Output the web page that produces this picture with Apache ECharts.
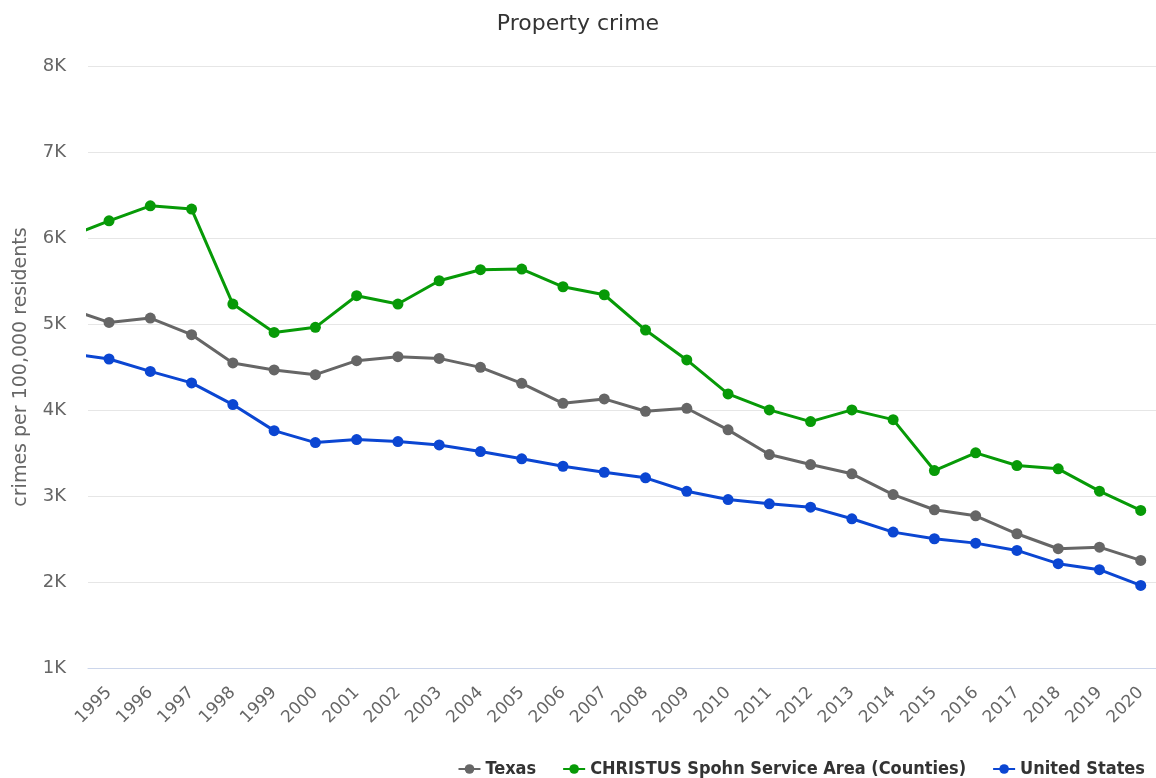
<!DOCTYPE html>
<html>
<head>
<meta charset="utf-8">
<title>Property crime</title>
<script src="https://cdn.jsdelivr.net/npm/echarts@6/dist/echarts.min.js"></script>
<style>
  html, body { margin: 0; padding: 0; background: #fff; }
  #chart { width: 1156px; height: 778px; }
</style>
</head>
<body>
<div id="chart"></div>
<script>
// years shown on the axis; 1994 sits just outside the left edge and is clipped
var years = [1994, 1995, 1996, 1997, 1998, 1999, 2000, 2001, 2002, 2003, 2004, 2005, 2006,
    2007, 2008, 2009, 2010, 2011, 2012, 2013, 2014, 2015, 2016, 2017, 2018, 2019, 2020];
var yearLabels = [1995, 1996, 1997, 1998, 1999, 2000, 2001, 2002, 2003, 2004, 2005, 2006,
    2007, 2008, 2009, 2010, 2011, 2012, 2013, 2014, 2015, 2016, 2017, 2018, 2019, 2020];

var texas = [5180, 5018, 5069, 4876, 4547, 4466, 4411, 4574, 4620, 4600, 4496, 4310, 4078,
    4129, 3985, 4020, 3769, 3482, 3366, 3258, 3017, 2840, 2770, 2561, 2387, 2405, 2251];
var christus = [6010, 6200, 6374, 6336, 5232, 4902, 4961, 5329, 5232, 5503, 5631, 5639, 5433,
    5340, 4930, 4582, 4187, 4001, 3865, 4001, 3888, 3296, 3502, 3354, 3316, 3056, 2832];
var unitedStates = [4660, 4593, 4449, 4315, 4063, 3760, 3621, 3656, 3633, 3594, 3517, 3432, 3346,
    3276, 3211, 3055, 2959, 2909, 2870, 2735, 2580, 2503, 2452, 2367, 2213, 2143, 1960];

function pairs(arr) {
    return years.map(function (y, i) { return [y, arr[i]]; });
}

var myChart = echarts.init(document.getElementById('chart'));
var font = '"DejaVu Sans", sans-serif';

function line(name, color, data) {
    return {
        name: name,
        type: 'line',
        data: pairs(data),
        symbol: 'circle',
        symbolSize: 11,
        showSymbol: true,
        lineStyle: { width: 3, color: color },
        itemStyle: { color: color },
        emphasis: { disabled: true }
    };
}

var option = {
    backgroundColor: '#fff',
    animation: false,
    title: {
        text: 'Property crime',
        left: 'center',
        top: 8,
        textStyle: { fontFamily: font, fontSize: 22, fontWeight: 'normal', color: '#333' }
    },
    legend: {
        right: 6,
        top: 755,
        itemGap: 26,
        itemWidth: 22,
        itemHeight: 12,
        textStyle: { fontFamily: '"DejaVu Sans Condensed", "DejaVu Sans", sans-serif', fontSize: 18, fontWeight: 'bold', color: '#333' },
        data: ['Texas', 'CHRISTUS Spohn Service Area (Counties)', 'United States']
    },
    grid: {
        left: 88,
        right: 0,
        top: 66,
        bottom: 110,
        containLabel: false,
        outerBoundsMode: 'none'
    },
    xAxis: {
        type: 'value',
        min: 1994.49,
        max: 2020.37,
        axisLine: { show: true, lineStyle: { color: '#ccd6eb', width: 1 } },
        axisTick: { show: false },
        splitLine: { show: false },
        axisLabel: {
            customValues: yearLabels,
            rotate: 45,
            margin: 22,
            fontFamily: font,
            fontSize: 17,
            color: '#666',
            formatter: function (v) { return String(v); }
        }
    },
    yAxis: {
        type: 'value',
        min: 1000,
        max: 8000,
        interval: 1000,
        name: 'crimes per 100,000 residents',
        nameLocation: 'middle',
        nameGap: 57,
        nameTextStyle: { fontFamily: font, fontSize: 19, color: '#666' },
        axisLine: { show: false },
        axisTick: { show: false },
        axisLabel: {
            margin: 22,
            fontFamily: font,
            fontSize: 18,
            color: '#666',
            formatter: function (v) { return (v / 1000) + 'K'; }
        },
        splitLine: { lineStyle: { color: '#e6e6e6', width: 1 } }
    },
    series: [
        line('Texas', '#666666', texas),
        line('CHRISTUS Spohn Service Area (Counties)', '#079a07', christus),
        line('United States', '#0b46d2', unitedStates)
    ]
};

myChart.setOption(option);
</script>
</body>
</html>
